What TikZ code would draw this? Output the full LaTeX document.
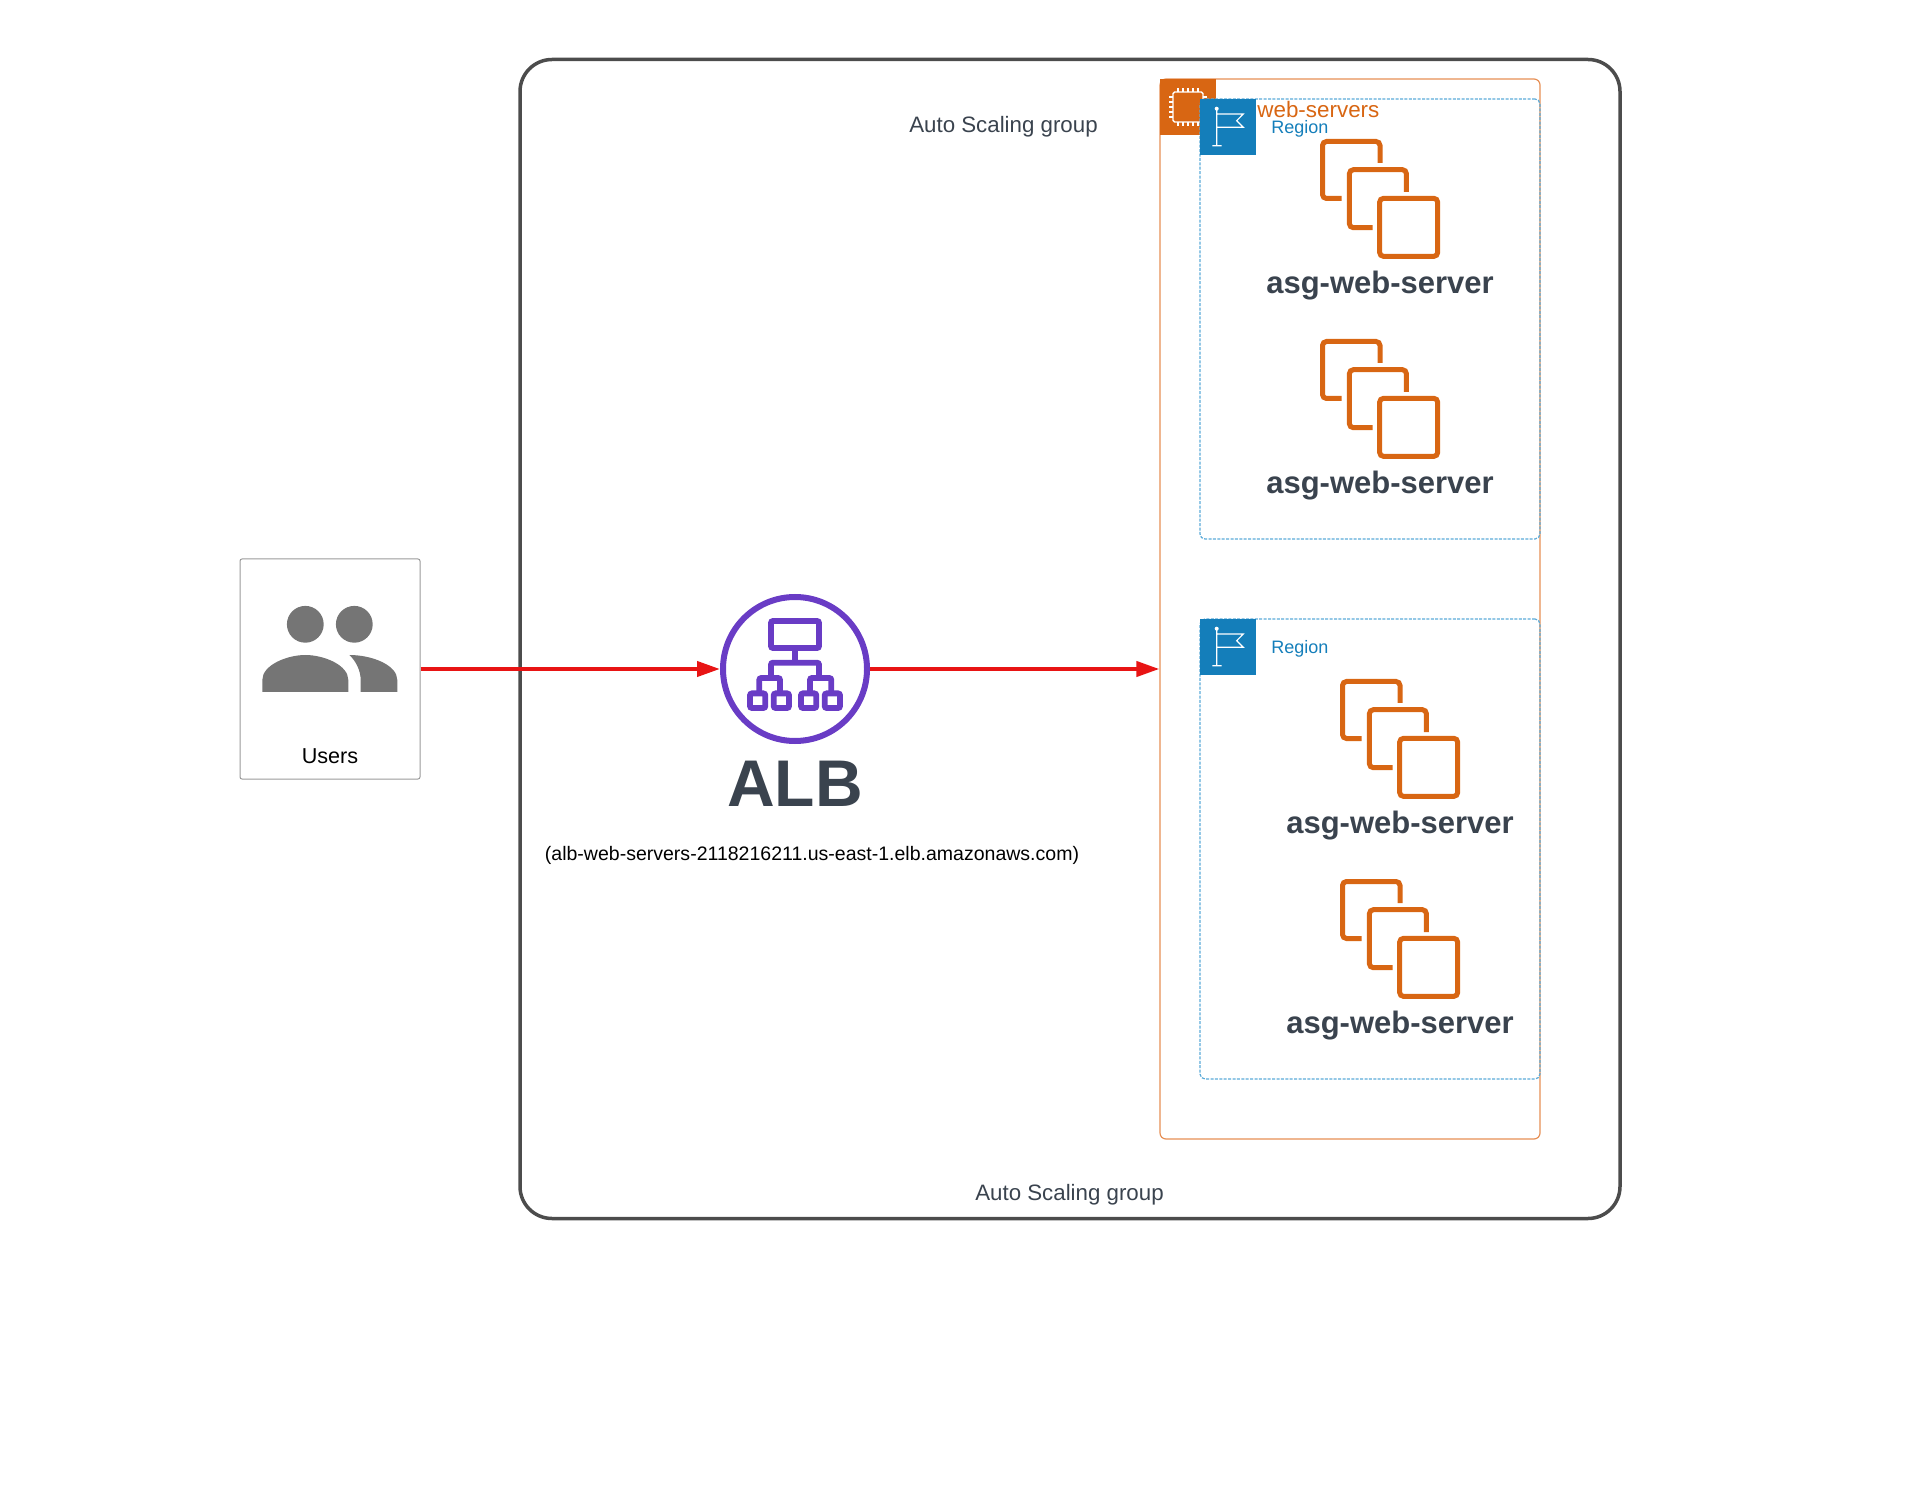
\documentclass[tikz,border=0pt]{standalone}
\usepackage{fontspec}
\setmainfont{Liberation Sans}
\usetikzlibrary{arrows.meta}
\definecolor{asgorange}{HTML}{D86613}
\definecolor{edgeorange}{HTML}{E68F55}
\definecolor{regionblue}{HTML}{147EBA}
\definecolor{edgeblue}{HTML}{5BAAD8}
\definecolor{albpurple}{HTML}{693CC5}
\definecolor{inkdark}{HTML}{3A434E}
\definecolor{usergrey}{HTML}{757575}
\definecolor{arrowred}{HTML}{E81414}
\tikzset{
    x=0.5pt, y=-0.5pt,
    framebox/.style={draw=#1, rectangle, inner sep=0pt},
    label/.style={anchor=base, inner sep=0pt, text=inkdark},
    squarebox/.style={rectangle, fill=#1, inner sep=0pt, minimum size=28pt},
    flow/.style={draw=arrowred, line width=2pt, -{Triangle[length=11.5pt,width=7.5pt]}},
    albline/.style={draw=albpurple, line width=2.9pt, rounded corners=1pt},
    instances/.pic={
        \draw[asgorange, line width=2.5pt, rounded corners=2pt]
            (0,-36) -- (0,-57.5) -- (-57.5,-57.5) -- (-57.5,-0.5) -- (-38.3,-0.5)
            (26.4,-7) -- (26.4,-29.3) -- (-30.6,-29.3) -- (-30.6,28.7) -- (-7.3,28.7)
            (-0.4,-0.7) rectangle (57.7,57.4);
    },
    regionflag/.pic={
        \draw[white, line width=0.6pt]
            (-11.3,-18) -- (-11.3,18.7)
            (-15.7,18.7) -- (-6.3,18.7)
            (-11.3,-13) -- (15.3,-13) -- (8.7,-6.3) -- (15.3,0.3) -- (-11.3,0.3);
        \fill[white] (-11.3,-18.3) circle (1pt);
    },
    chip/.pic={
        \draw[white, line width=0.7pt, rounded corners=0.8pt] (-15,-15) rectangle (15,15);
        \foreach \pin in {-10,-5,0,5,10} {
            \draw[white, line width=0.6pt] (\pin,-19) -- (\pin,-15) (\pin,15) -- (\pin,19);
            \draw[white, line width=0.6pt] (-19,\pin) -- (-15,\pin) (15,\pin) -- (19,\pin);
        }
    },
}
\begin{document}
\begin{tikzpicture}
    \useasboundingbox (0,0) rectangle (1912,1497);

    \node[framebox=black!70, line width=1.75pt, rounded corners=16pt, minimum width=550pt, minimum height=579.5pt] (outergroup) at (1070,639) {};
    \node[label, font=\fontsize{11.15}{13}\selectfont] (topcaption) at (1003.5,132.5) {Auto Scaling group};
    \node[label, font=\fontsize{11.15}{13}\selectfont] (bottomcaption) at (1069.5,1200.5) {Auto Scaling group};

    \node[framebox=edgeorange, line width=0.6pt, rounded corners=3pt, minimum width=190pt, minimum height=530pt] (asg) at (1350,609) {};
    \node[squarebox=asgorange] (asgicon) at (1188,107) {};
    \pic at (asgicon.center) {chip};

    \node[framebox=edgeblue, line width=0.6pt, dashed, dash pattern=on 1.5pt off 0.7pt, rounded corners=2.5pt, minimum width=170pt, minimum height=220pt] (regiontop) at (1370,319) {};
    \node[framebox=edgeblue, line width=0.6pt, dashed, dash pattern=on 1.5pt off 0.7pt, rounded corners=2.5pt, minimum width=170pt, minimum height=230pt] (regionbottom) at (1370,849) {};
    \node[squarebox=regionblue] (flagtop) at (1228,127) {};
    \node[squarebox=regionblue] (flagbottom) at (1228,647) {};
    \pic at (flagtop.center) {regionflag};
    \pic at (flagbottom.center) {regionflag};

    \node[label, anchor=base west, text=asgorange, font=\fontsize{11.2}{13}\selectfont] (asgname) at (1257,117.5) {web-servers};
    \node[label, anchor=base west, text=regionblue, font=\fontsize{9}{10}\selectfont] (regionnametop) at (1271,133.5) {Region};
    \node[label, anchor=base west, text=regionblue, font=\fontsize{9}{10}\selectfont] (regionnamebottom) at (1271,653.5) {Region};

    \pic at (1380,199) {instances};
    \pic at (1380,399) {instances};
    \pic at (1400,739) {instances};
    \pic at (1400,939) {instances};
    \node[label, font=\bfseries\fontsize{15.5}{18}\selectfont] (servera) at (1380,293.5) {asg-web-server};
    \node[label, font=\bfseries\fontsize{15.5}{18}\selectfont] (serverb) at (1380,493.5) {asg-web-server};
    \node[label, font=\bfseries\fontsize{15.5}{18}\selectfont] (serverc) at (1400,833.5) {asg-web-server};
    \node[label, font=\bfseries\fontsize{15.5}{18}\selectfont] (serverd) at (1400,1033.5) {asg-web-server};

    \node[framebox=black!40, line width=0.5pt, rounded corners=1pt, minimum width=90pt, minimum height=110pt] (users) at (330,669) {};
    \fill[usergrey] (305.3,624.3) circle (9.2pt);
    \fill[usergrey] (354.3,624.3) circle (9.2pt);
    \fill[usergrey] (262.3,692) -- (262.3,680) .. controls (262.3,665) and (287,655) .. (305.3,655)
        .. controls (324,655) and (348.3,665) .. (348.3,680) -- (348.3,692) -- cycle;
    \fill[usergrey] (349.3,655) .. controls (372,655) and (397.3,665) .. (397.3,680) -- (397.3,692)
        -- (360.7,692) -- (360.7,680) .. controls (360.7,671) and (356,661) .. (349.3,655) -- cycle;
    \node[label, text=black, font=\fontsize{10.8}{13}\selectfont] (userslabel) at (330,763) {Users};

    \node[draw=albpurple, circle, line width=3pt, inner sep=0pt, minimum size=72pt] (alb) at (795,669) {};
    \draw[albline] (771,621) rectangle (819,648);
    \draw[albline] (795,648) -- (795,662.7);
    \draw[albline] (771,678) -- (771,662.7) -- (819,662.7) -- (819,678);
    \draw[albline] (759.3,693.4) -- (759.3,678) -- (780,678) -- (780,693.4);
    \draw[albline] (810,693.4) -- (810,678) -- (831.3,678) -- (831.3,693.4);
    \draw[albline] (750,693.4) rectangle (765.3,708);
    \draw[albline] (773.7,693.4) rectangle (789,708);
    \draw[albline] (801,693.4) rectangle (816.3,708);
    \draw[albline] (824.7,693.4) rectangle (840,708);
    \node[label, font=\bfseries\fontsize{33}{36}\selectfont] (albname) at (795,806) {ALB};
    \node[label, text=black, font=\fontsize{9.76}{13}\selectfont] (albdns) at (812,860) {(alb-web-servers-2118216211.us-east-1.elb.amazonaws.com)};

    \draw[flow] (users) -- (alb);
    \draw[flow] (alb) -- (alb -| asg.west);
\end{tikzpicture}
\end{document}
